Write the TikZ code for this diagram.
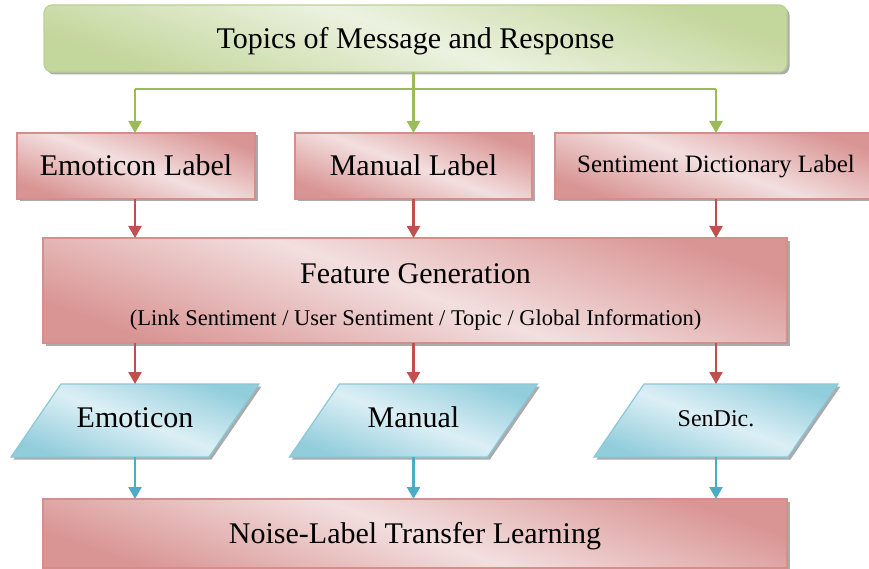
\documentclass[tikz,border=0pt]{standalone}
\usepackage{fontspec}
\setmainfont{Liberation Serif}
\usetikzlibrary{arrows.meta,shadows}
\definecolor{rdark}{RGB}{217,149,148}
\definecolor{rlight}{RGB}{243,223,223}
\definecolor{rborder}{RGB}{214,142,140}
\definecolor{bdark}{RGB}{146,205,220}
\definecolor{blight}{RGB}{220,239,245}
\definecolor{bborder}{RGB}{138,200,216}
\definecolor{gdark}{RGB}{195,214,155}
\definecolor{glight}{RGB}{236,242,224}
\definecolor{gborder}{RGB}{188,208,148}
\definecolor{rline}{RGB}{192,80,77}
\definecolor{gline}{RGB}{155,187,89}
\definecolor{bline}{RGB}{75,172,198}
\pgfdeclarelayer{bg}
\pgfsetlayers{bg,main}
\begin{document}
\begin{tikzpicture}[x=1pt,y=-1pt,
  shadowed/.style={drop shadow={shadow xshift=2.5pt,shadow yshift=-2.5pt,fill=black!60,opacity=0.55}},
  base/.style={inner sep=0pt,outer sep=0pt,line width=1.2pt,shadowed,
    font=\fontsize{30}{36}\selectfont,text height=20pt,text depth=0pt},
  redbox/.style={base,rectangle,draw=rborder,top color=rdark,bottom color=rdark,middle color=rlight,shading angle=-20},
  greenbox/.style={base,rectangle,rounded corners=8pt,draw=gborder,top color=gdark,bottom color=gdark,middle color=glight,shading angle=-20},
  paratext/.style={rectangle,inner sep=0pt,outer sep=0pt,minimum height=73pt,
    font=\fontsize{30}{36}\selectfont,text height=20pt,text depth=7pt},
  parafill/.style={line width=1.2pt,shadowed,draw=bborder,top color=bdark,bottom color=bdark,middle color=blight,shading angle=-20},
  conn/.style={line width=2.4pt},
  tip/.style={conn,-{Triangle[length=12pt,width=13pt]}},
  txt/.style={inner sep=0pt,outer sep=0pt}
]
\useasboundingbox (0,0) rectangle (869,569);

% boxes
\node[greenbox,minimum width=743pt,minimum height=67pt] (top) at (415.5,38.5) {Topics of Message and Response};

\node[redbox,minimum width=238pt,minimum height=66pt] (emolab) at (136,166) {Emoticon Label};
\node[redbox,minimum width=237pt,minimum height=66pt] (manlab) at (413.5,166) {Manual Label};
\node[redbox,minimum width=322pt,minimum height=66pt,font=\fontsize{25}{30}\selectfont,text height=16.5pt,text depth=3pt] (sdlab) at (716,166) {Sentiment Dictionary Label};

\node[redbox,minimum width=744pt,minimum height=105pt] (feat) at (415,290.5) {};
\node[txt,font=\fontsize{30}{36}\selectfont,text height=20pt,text depth=0pt] (feattitle) at (415.5,273) {Feature Generation};
\node[txt,font=\fontsize{22.5}{27}\selectfont,text height=14.9pt,text depth=0pt] (featsub) at (415.5,318) {(Link Sentiment / User Sentiment / Topic / Global Information)};

% parallelograms: node gives the top side, shape drawn behind it
\node[paratext,minimum width=198pt] (emoP) at (135,420.5) {Emoticon};
\node[paratext,minimum width=198pt] (manP) at (413.5,420.5) {Manual};
\node[paratext,minimum width=194pt,font=\fontsize{24}{29}\selectfont,text height=15.9pt,text depth=3.6pt] (sdP) at (716,420.5) {SenDic.};
\begin{pgfonlayer}{bg}
\foreach \p in {emoP,manP,sdP}{
  \path[parafill] ([xshift=25pt]\p.north west) -- ([xshift=25pt]\p.north east)
    -- ([xshift=-25pt]\p.south east) -- ([xshift=-25pt]\p.south west) -- cycle;
}
\end{pgfonlayer}

\node[redbox,minimum width=744pt,minimum height=69pt] (noise) at (415,533.5) {Noise-Label Transfer Learning};

% green connectors
\coordinate (gj) at (413.5,89);
\draw[conn,gline] (top.south -| manP.center) -- (gj);
\draw[conn,gline] (gj -| emoP.center) -- (gj -| sdP.center);
\draw[tip,gline] (gj -| emoP.center) -- (emolab.north -| emoP.center);
\draw[tip,gline] (gj -| manP.center) -- (manlab.north -| manP.center);
\draw[tip,gline] (gj -| sdP.center) -- (sdlab.north -| sdP.center);

% red connectors
\draw[tip,rline] (emolab.south -| emoP.center) -- (feat.north -| emoP.center);
\draw[tip,rline] (manlab.south -| manP.center) -- (feat.north -| manP.center);
\draw[tip,rline] (sdlab.south -| sdP.center) -- (feat.north -| sdP.center);

\draw[tip,rline] (feat.south -| emoP.center) -- (emoP.north);
\draw[tip,rline] (feat.south -| manP.center) -- (manP.north);
\draw[tip,rline] (feat.south -| sdP.center) -- (sdP.north);

% blue connectors
\draw[tip,bline] (emoP.south) -- (noise.north -| emoP.center);
\draw[tip,bline] (manP.south) -- (noise.north -| manP.center);
\draw[tip,bline] (sdP.south) -- (noise.north -| sdP.center);
\end{tikzpicture}
\end{document}
